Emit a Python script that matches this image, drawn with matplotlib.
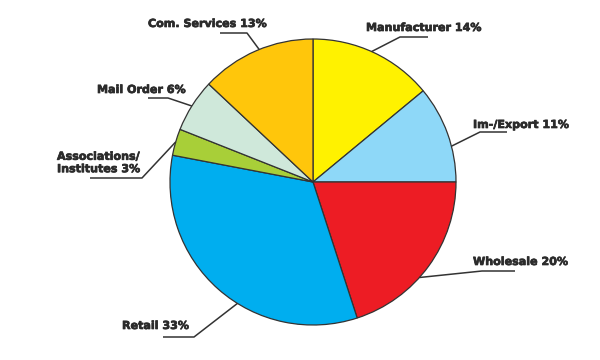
import numpy as np
import matplotlib
matplotlib.use("Agg")
import matplotlib.pyplot as plt
import matplotlib.patheffects as pe

# ---- data ----
categories = ["Manufacturer", "Im-/Export", "Wholesale", "Retail",
              "Associations/\nInstitutes", "Mail Order", "Com. Services"]
shares = [14, 11, 20, 33, 3, 6, 13]
colors = ["#FFF200", "#8ED8F8", "#ED1C24", "#00AEEF",
          "#A8CF38", "#CFE8DA", "#FFC60B"]

# ---- layout (pixel coordinates, y measured from top) ----
W, H = 600, 360
cx, cy, R = 313, 182, 143
# angle on rim (deg), elbow (x, y), underline end x, text left x, text center y
label_layout = [
    (65.8, (400, 37), 428, 366, 28),     # Manufacturer
    (14.5, (480, 132), 507, 473, 125),   # Im-/Export
    (-41.9, (482, 271), 515, 473, 262),  # Wholesale
    (-121.9, (194, 337), 163, 122, 326), # Retail
    (163.7, (142, 178), 90, 57, 163),    # Associations
    (147.9, (168, 98), 148, 97, 90),     # Mail Order
    (112.1, (247, 33), 220, 148, 24),    # Com. Services
]

fig = plt.figure(figsize=(6, 3.6), dpi=100)
ax = fig.add_axes([0, 0, 1, 1])

ax.pie(shares, colors=colors, startangle=90, counterclock=False,
       center=(cx, H - cy), radius=R,
       wedgeprops=dict(edgecolor="#333333", linewidth=0.9),
       frame=True)
ax.set_xlim(0, W)
ax.set_ylim(0, H)
ax.set_aspect("equal")
ax.axis("off")

for cat, val, (ang, elbow, ux, tx, ty) in zip(categories, shares, label_layout):
    a = np.deg2rad(ang)
    px = cx + R * np.cos(a)
    py = cy - R * np.sin(a)
    ex, ey = elbow
    ax.plot([px, ex, ux], [H - py, H - ey, H - ey], color="#333333",
            linewidth=1.1, solid_capstyle="butt")
    ax.text(tx, H - ty, f"{cat} {val}%", ha="left", va="center",
            fontsize=8, fontweight="bold", color="#2b2b2b",
            family="DejaVu Sans", linespacing=1.3,
            path_effects=[pe.withStroke(linewidth=0.5, foreground="#2b2b2b")])

fig.savefig("out.png", dpi=100)
